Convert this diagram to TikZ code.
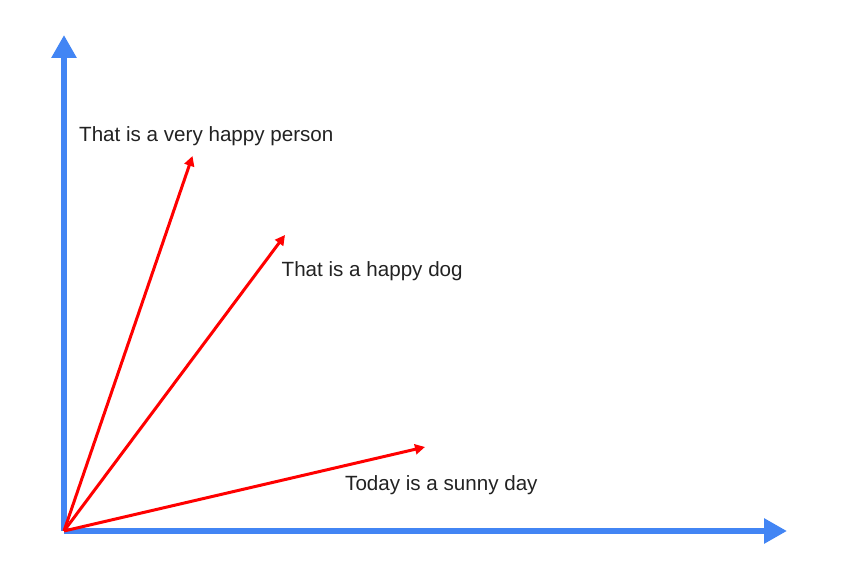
\documentclass[tikz,border=0pt]{standalone}
\usepackage{fontspec}
\setmainfont{Liberation Sans}
\usetikzlibrary{arrows.meta}
\definecolor{axisblue}{HTML}{4285F4}
\definecolor{vecred}{HTML}{FF0000}
\definecolor{txt}{HTML}{222222}
\tikzset{
  axis/.style={draw=axisblue, line width=6pt, -{Triangle[length=23pt,width=24pt]}},
  vec/.style={draw=vecred, line width=3pt, -{Triangle[length=10pt,width=10pt]}},
  lbl/.style={anchor=base west, inner sep=0pt, text=txt, font=\fontsize{20.6}{24}\selectfont}
}
\begin{document}
\begin{tikzpicture}[x=1pt,y=1pt]
\useasboundingbox (0,0) rectangle (852,585);
\coordinate (O) at (64,54);
\coordinate (ytip) at (64,550);
\coordinate (xtip) at (787,54);
\coordinate (v1) at (192.5,429);
\coordinate (v2) at (285,350);
\coordinate (v3) at (425,138);
\draw[axis] (O) -- (ytip);
\draw[axis] (O) -- (xtip);
\draw[vec] (O) -- (v1);
\draw[vec] (O) -- (v2);
\draw[vec] (O) -- (v3);
\node[lbl] (t1) at (79,443) {That is a very happy person};
\node[lbl] (t2) at (281.5,308) {That is a happy dog};
\node[lbl] (t3) at (345,94) {Today is a sunny day};
\end{tikzpicture}
\end{document}
